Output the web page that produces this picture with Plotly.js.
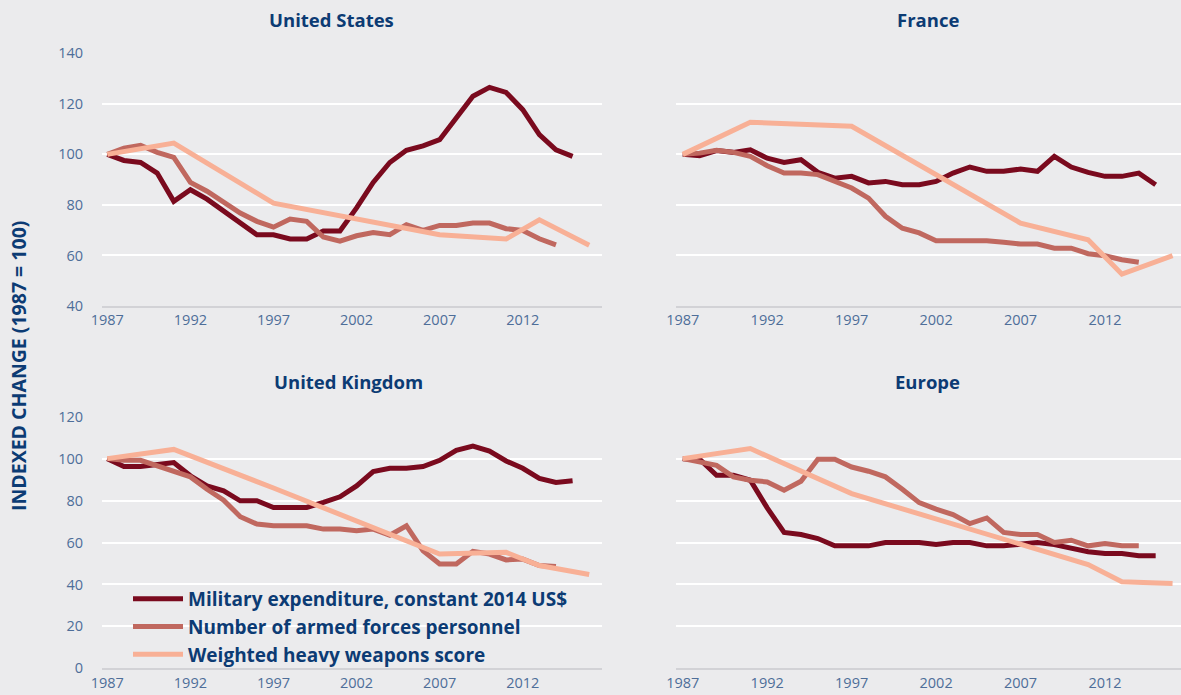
<!DOCTYPE html>
<html>
<head>
<meta charset="utf-8">
<script src="https://cdn.plot.ly/plotly-3.0.1.min.js"></script>
<style>
html,body{margin:0;padding:0;background:#EBEBED;}
#chart{width:1181px;height:695px;}
</style>
</head>
<body>
<div id="chart"></div>
<script>
// ---- data ----
const seriesNames = ["Military expenditure, constant 2014 US$", "Number of armed forces personnel", "Weighted heavy weapons score"];
const panelTitles = ["United States", "France", "United Kingdom", "Europe"];
const tickYears = [1987, 1992, 1997, 2002, 2007, 2012];
const tickLabels = ["1987", "1992", "1997", "2002", "2007", "2012"];

const milYears = [1987,1988,1989,1990,1991,1992,1993,1994,1995,1996,1997,1998,1999,2000,2001,2002,2003,2004,2005,2006,2007,2008,2009,2010,2011,2012,2013,2014,2015];
const persYears = [1987,1988,1989,1990,1991,1992,1993,1994,1995,1996,1997,1998,1999,2000,2001,2002,2003,2004,2005,2006,2007,2008,2009,2010,2011,2012,2013,2014];
const weapYears = [1987, 1991, 1997, 2007, 2011, 2013, 2016];

const usMil  = [100,97.6,96.8,92.6,81.4,86,82.3,77.4,72.6,68.2,68.2,66.5,66.5,69.7,69.7,78.8,88.9,96.8,101.6,103.4,105.8,114.8,123,126.5,124.5,117.7,107.8,101.8,99.2];
const usPers = [100,102.5,103.6,100.8,98.8,88.9,85.4,81,76.8,73.5,71.2,74.4,73.5,67.3,65.7,67.8,69.1,68.2,72.2,69.9,71.9,71.9,72.8,72.8,70.6,69.9,66.6,64.2];
const usWeap = [100,104.5,80.7,68.2,66.5,74.1,64];

const frMil  = [100,99.5,101.5,100.8,101.8,98.5,96.8,97.9,92.9,90.6,91.3,88.7,89.3,88,88,89.3,92.6,95,93.3,93.3,94.2,93.3,99.2,95,92.9,91.3,91.3,92.6,88];
const frPers = [100,100.5,101.6,100.8,99.2,95.5,92.6,92.6,92,89.3,86.7,82.7,75.5,70.8,68.9,65.8,65.8,65.8,65.8,65.2,64.5,64.5,62.9,62.9,60.7,59.9,58.3,57.3];
const frWeap = [100,112.7,111.1,72.8,66.2,52.6,59.9];

const ukMil  = [100,96.2,96.2,97.3,98.1,91.8,87,84.6,79.9,79.9,76.7,76.7,76.7,79.1,81.8,87,93.8,95.4,95.4,96.2,99.2,104,106,103.6,98.9,95.4,90.6,88.6,89.4];
const ukPers = [100,99.2,99.2,96.5,93.8,91.3,85.4,80.2,72.3,68.8,68,68,68,66.4,66.4,65.6,66.4,63.5,68,56.1,49.8,49.8,55.8,54.5,51.7,52.1,49,48.5];
const ukWeap = [100,104.4,86,54.5,55.3,49,44.7];

const euMil  = [100,99.7,92.1,92.1,89.7,76.5,64.8,63.8,61.9,58.4,58.4,58.4,60,60,60,59,60,60,58.4,58.4,59,60,59,57.1,55.6,54.8,54.8,53.7,53.7];
const euPers = [100,98.7,96.8,91.3,89.7,88.9,84.9,89.2,99.7,99.7,96,94,91.3,85.4,79,75.9,73.3,69,71.7,64.8,63.8,63.8,60,61.1,58.4,59.5,58.4,58.4];
const euWeap = [100,104.8,83.3,59.5,49.5,41.3,40.5];

// ---- styling ----
const colors = ["#7A0A1E", "#C0685F", "#F8B096"];
const navy = "#0C3B74";
const tickColor = "#4E6E99";
const bg = "#EBEBED";
const W = 1181, H = 695;
const fam = "'Open Sans', sans-serif";

const panels = [
  {mil: usMil, pers: usPers, weap: usWeap},
  {mil: frMil, pers: frPers, weap: frWeap},
  {mil: ukMil, pers: ukPers, weap: ukWeap},
  {mil: euMil, pers: euPers, weap: euWeap}
];

const traces = [];
panels.forEach((p, i) => {
  const ax = i === 0 ? "" : String(i + 1);
  const sets = [[milYears, p.mil], [persYears, p.pers], [weapYears, p.weap]];
  sets.forEach((s, k) => {
    traces.push({
      type: "scatter", mode: "lines",
      x: s[0], y: s[1],
      xaxis: "x" + ax, yaxis: "y" + ax,
      name: seriesNames[k],
      legendgroup: "g" + k,
      showlegend: i === 0,
      line: {color: colors[k], width: 5, shape: "linear"},
      hoverinfo: "x+y+name"
    });
  });
});

function px(v){ return v / W; }
function py(v){ return 1 - v / H; }

const xLeft = [px(102), px(602)];
const xRight = [px(676), 1];
const yTop = [py(306), py(53.3)];
const yBot = [py(668.3), py(416.7)];

function xAxis(domain, anchor, range){
  return {
    domain: domain, anchor: anchor, range: range,
    tickmode: "array", tickvals: tickYears, ticktext: tickLabels,
    showgrid: false, zeroline: false,
    showline: true, linecolor: "#D2D2D6", linewidth: 2,
    ticks: "", ticklabelstandoff: 0,
    tickfont: {family: fam, size: 14.5, color: tickColor},
    fixedrange: true
  };
}
function yAxis(domain, anchor, range, dtick, labels){
  return {
    domain: domain, anchor: anchor, range: range,
    tickmode: "linear", tick0: 0, dtick: dtick,
    showgrid: true, gridcolor: "#FFFFFF", gridwidth: 2,
    zeroline: false, showline: false, ticks: "",
    showticklabels: labels, ticklabelstandoff: 18,
    tickfont: {family: fam, size: 14.5, color: tickColor},
    fixedrange: true
  };
}

const titleFont = {family: fam, size: 18.5, color: navy, weight: 700};

const layout = {
  width: W, height: H,
  paper_bgcolor: bg, plot_bgcolor: bg,
  margin: {l: 0, r: 0, t: 0, b: 0},
  showlegend: true,
  legend: {
    x: px(128), y: py(580), xanchor: "left", yanchor: "top",
    bgcolor: "rgba(0,0,0,0)", borderwidth: 0,
    itemwidth: 50, tracegroupgap: 0,
    font: {family: fam, size: 19, color: navy, weight: 700}
  },
  xaxis:  xAxis(xLeft, "y", [1986.68, 2016.77]),
  yaxis:  yAxis(yTop, "x", [40, 140], 20, true),
  xaxis2: xAxis(xRight, "y2", [1986.6, 2016.5]),
  yaxis2: yAxis(yTop, "x2", [40, 140], 20, false),
  xaxis3: xAxis(xLeft, "y3", [1986.68, 2016.77]),
  yaxis3: yAxis(yBot, "x3", [0, 120], 20, true),
  xaxis4: xAxis(xRight, "y4", [1986.6, 2016.5]),
  yaxis4: yAxis(yBot, "x4", [0, 120], 20, false),
  annotations: [
    {text: panelTitles[0], x: px(331), y: py(19), xref: "paper", yref: "paper", showarrow: false, xanchor: "center", yanchor: "middle", font: titleFont},
    {text: panelTitles[1], x: px(927.5), y: py(19), xref: "paper", yref: "paper", showarrow: false, xanchor: "center", yanchor: "middle", font: titleFont},
    {text: panelTitles[2], x: px(348), y: py(382), xref: "paper", yref: "paper", showarrow: false, xanchor: "center", yanchor: "middle", font: titleFont},
    {text: panelTitles[3], x: px(927), y: py(382), xref: "paper", yref: "paper", showarrow: false, xanchor: "center", yanchor: "middle", font: titleFont},
    {text: "INDEXED CHANGE (1987 = 100)", x: px(18), y: py(366), xref: "paper", yref: "paper", showarrow: false,
     textangle: -90, xanchor: "center", yanchor: "middle",
     font: {family: fam, size: 19.5, color: navy, weight: 700}}
  ]
};

Plotly.newPlot("chart", traces, layout, {displayModeBar: false});
</script>
</body>
</html>
